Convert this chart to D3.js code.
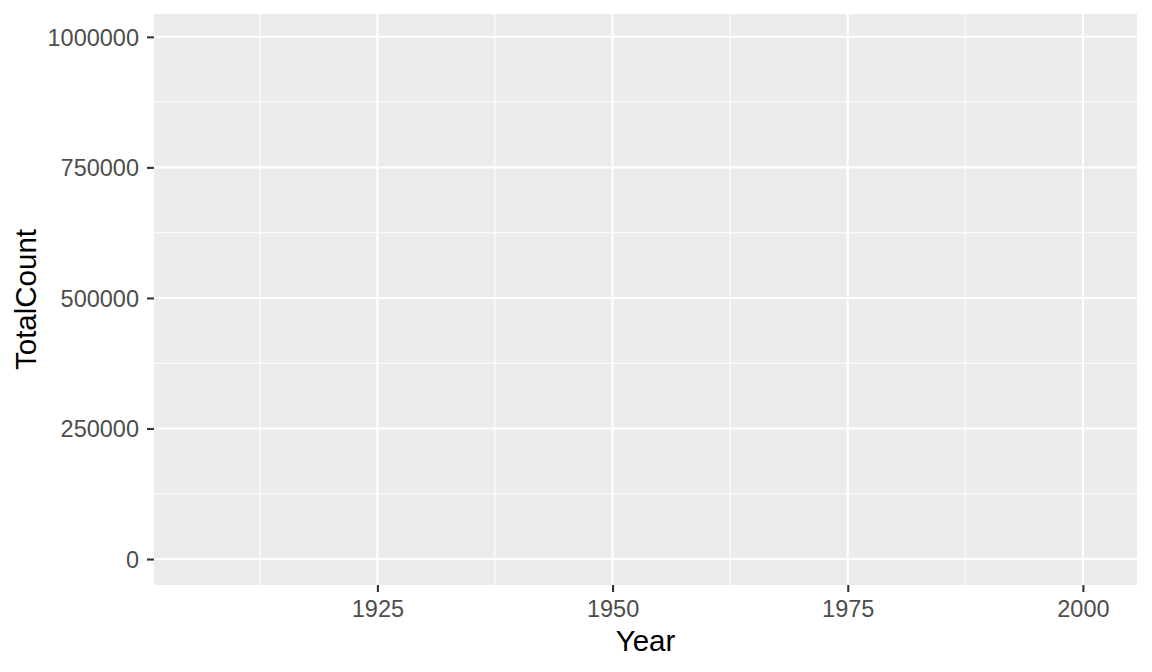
<!DOCTYPE html>
<html>
<head>
<meta charset="utf-8">
<script src="https://cdn.jsdelivr.net/npm/d3@7"></script>
<style>
  html, body { margin: 0; padding: 0; background: #fff; }
  svg { display: block; }
</style>
</head>
<body>
<svg id="chart" width="1152" height="672"></svg>
<script>
// Data extents of the (blank) layer
const yearExtent = [1906, 2001];
const totalCountExtent = [0, 994000];
// Tick labels
const xTicks = [1925, 1950, 1975, 2000];
const yTicks = [0, 250000, 500000, 750000, 1000000];
const xMinor = [1912.5, 1937.5, 1962.5, 1987.5];
const yMinor = [125000, 375000, 625000, 875000];
// No observations are drawn in the reference
const points = [];

const W = 1152, H = 672;
const panel = { left: 154, right: 1137, top: 14, bottom: 585 };

function expand(ext, m) {
  const r = ext[1] - ext[0];
  return [ext[0] - r * m, ext[1] + r * m];
}

const x = d3.scaleLinear().domain(expand(yearExtent, 0.05)).range([panel.left, panel.right]);
const y = d3.scaleLinear().domain(expand(totalCountExtent, 0.05)).range([panel.bottom, panel.top]);

const svg = d3.select("#chart");
svg.append("rect").attr("width", W).attr("height", H).attr("fill", "#fff");

svg.append("rect")
  .attr("x", panel.left).attr("y", panel.top)
  .attr("width", panel.right - panel.left).attr("height", panel.bottom - panel.top)
  .attr("fill", "#EBEBEB");

const grid = svg.append("g");
grid.selectAll("line.ymin").data(yMinor).join("line")
  .attr("x1", panel.left).attr("x2", panel.right)
  .attr("y1", d => y(d)).attr("y2", d => y(d))
  .attr("stroke", "#fff").attr("stroke-width", 1.05);
grid.selectAll("line.xmin").data(xMinor).join("line")
  .attr("y1", panel.top).attr("y2", panel.bottom)
  .attr("x1", d => x(d)).attr("x2", d => x(d))
  .attr("stroke", "#fff").attr("stroke-width", 1.05);
grid.selectAll("line.ymaj").data(yTicks).join("line")
  .attr("x1", panel.left).attr("x2", panel.right)
  .attr("y1", d => y(d)).attr("y2", d => y(d))
  .attr("stroke", "#fff").attr("stroke-width", 2.1);
grid.selectAll("line.xmaj").data(xTicks).join("line")
  .attr("y1", panel.top).attr("y2", panel.bottom)
  .attr("x1", d => x(d)).attr("x2", d => x(d))
  .attr("stroke", "#fff").attr("stroke-width", 2.1);

// (empty layer)
svg.append("g").selectAll("circle").data(points).join("circle")
  .attr("cx", d => x(d.year)).attr("cy", d => y(d.count)).attr("r", 3);

const FONT = "Liberation Sans, Arial, sans-serif";

// Axes
const xAxis = d3.axisBottom(x).tickValues(xTicks).tickFormat(d3.format("d"))
  .tickSizeInner(7).tickSizeOuter(0).tickPadding(8);
const gx = svg.append("g").attr("transform", `translate(0,${panel.bottom})`).call(xAxis);
gx.select(".domain").remove();
gx.selectAll(".tick line").attr("stroke", "#333333").attr("stroke-width", 2.1);
gx.selectAll(".tick text").attr("fill", "#4D4D4D")
  .attr("font-family", FONT).attr("font-size", 23.5)
  .attr("dy", "0.71em");

const yAxis = d3.axisLeft(y).tickValues(yTicks).tickFormat(d3.format("d"))
  .tickSizeInner(7).tickSizeOuter(0).tickPadding(8);
const gy = svg.append("g").attr("transform", `translate(${panel.left},0)`).call(yAxis);
gy.select(".domain").remove();
gy.selectAll(".tick line").attr("stroke", "#333333").attr("stroke-width", 2.1);
gy.selectAll(".tick text").attr("fill", "#4D4D4D")
  .attr("font-family", FONT).attr("font-size", 23.5)
  .attr("dy", "0.36em");

// Axis titles
svg.append("text")
  .attr("x", (panel.left + panel.right) / 2).attr("y", 651)
  .attr("text-anchor", "middle")
  .attr("font-family", FONT).attr("font-size", 29.5)
  .attr("fill", "#000").text("Year");

svg.append("text")
  .attr("transform", `translate(36,${(panel.top + panel.bottom) / 2}) rotate(-90)`)
  .attr("text-anchor", "middle")
  .attr("font-family", FONT).attr("font-size", 29.5)
  .attr("fill", "#000").text("TotalCount");
</script>
</body>
</html>
